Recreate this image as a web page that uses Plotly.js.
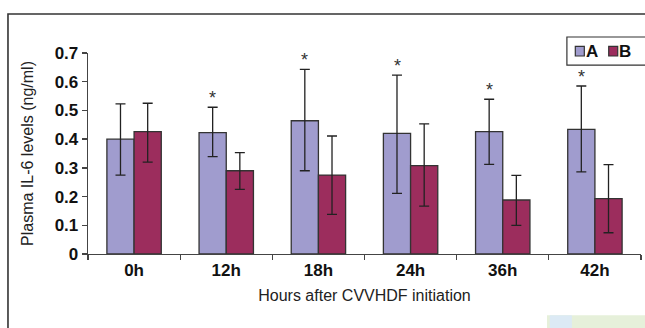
<!DOCTYPE html>
<html>
<head>
<meta charset="utf-8">
<script src="https://cdn.plot.ly/plotly-3.0.1.min.js"></script>
<style>html,body{margin:0;padding:0;background:#fff;}#chart{width:645px;height:328px;}</style>
</head>
<body>
<div id="chart"></div>
<script>
const categories = ["0h", "12h", "18h", "24h", "36h", "42h"];
const aMean  = [0.400, 0.423, 0.464, 0.420, 0.426, 0.434];
const aUpper = [0.523, 0.511, 0.643, 0.623, 0.539, 0.585];
const aLower = [0.275, 0.339, 0.290, 0.211, 0.312, 0.286];
const bMean  = [0.426, 0.290, 0.275, 0.308, 0.188, 0.193];
const bUpper = [0.525, 0.353, 0.411, 0.453, 0.274, 0.311];
const bLower = [0.320, 0.225, 0.138, 0.167, 0.100, 0.074];
const significant = [false, true, true, true, true, true];
const seriesNames = ["A", "B"];
const seriesColors = ["#A09CCE", "#9C2D5D"];

const diff = (u, m) => u.map((v, i) => +(v - m[i]).toFixed(3));
const errStyle = {type: "data", symmetric: false, color: "#222", thickness: 1.3, width: 5};

const traceA = {
  type: "bar", name: seriesNames[0], x: categories, y: aMean,
  marker: {color: seriesColors[0], line: {color: "#333", width: 1.3}},
  error_y: Object.assign({array: diff(aUpper, aMean), arrayminus: diff(aMean, aLower)}, errStyle)
};
const traceB = {
  type: "bar", name: seriesNames[1], x: categories, y: bMean,
  marker: {color: seriesColors[1], line: {color: "#333", width: 1.3}},
  error_y: Object.assign({array: diff(bUpper, bMean), arrayminus: diff(bMean, bLower)}, errStyle)
};

const annotations = [];
categories.forEach((c, i) => {
  if (significant[i]) {
    annotations.push({
      x: c, y: aUpper[i], xref: "x", yref: "y", text: "*", showarrow: false,
      xshift: -13.5, yshift: 9, font: {family: "Liberation Sans, Arial", size: 18, color: "#333"}
    });
  }
});

// Legend (drawn in paper coordinates, top-right, clipped by the frame)
const legendBox = {x0: 0.866, x1: 1.2, y0: 0.940, y1: 1.0796};
const legendItems = [{sx: 0.8812, tx: 0.8975}, {sx: 0.9416, tx: 0.9575}];
const shapes = [
  {type: "rect", xref: "paper", yref: "paper", x0: -0.1447, x1: 1.2, y0: -0.6, y1: 1.194,
   line: {color: "#333", width: 1.6}, fillcolor: "rgba(0,0,0,0)", layer: "below"},
  {type: "rect", xref: "paper", yref: "paper", x0: 0.83, x1: 1.2, y0: -0.37, y1: -0.305,
   line: {width: 0}, fillcolor: "#E6F0DA", layer: "below"},
  {type: "rect", xref: "paper", yref: "paper", x0: 0.835, x1: 0.875, y0: -0.37, y1: -0.305,
   line: {width: 0}, fillcolor: "#DCEAF5", layer: "below"},
  {type: "rect", xref: "paper", yref: "paper", x0: legendBox.x0, x1: legendBox.x1, y0: legendBox.y0, y1: legendBox.y1,
   line: {color: "#333", width: 1.2}, fillcolor: "#fff"}
];
seriesNames.forEach((n, i) => {
  const it = legendItems[i];
  shapes.push({type: "rect", xref: "paper", yref: "paper", x0: it.sx, x1: it.sx + 0.0163, y0: 0.985, y1: 1.033,
    line: {color: "#333", width: 1.2}, fillcolor: seriesColors[i]});
  annotations.push({xref: "paper", yref: "paper", x: it.tx, y: 1.009, xanchor: "left", yanchor: "middle",
    text: "<b>" + n + "</b>", showarrow: false, font: {size: 17, color: "#111"}});
});

const layout = {
  width: 645, height: 328,
  margin: {l: 88, r: 4, t: 53, b: 74, autoexpand: false},
  paper_bgcolor: "#fff", plot_bgcolor: "#fff",
  font: {family: "Liberation Sans, Arial, sans-serif", color: "#111"},
  barmode: "group", bargap: 0.41, bargroupgap: 0,
  showlegend: false,
  xaxis: {
    type: "category", showline: true, linecolor: "#444", linewidth: 1.3,
    ticks: "outside", tickson: "boundaries", ticklen: 5, tickcolor: "#444", tickwidth: 1.3,
    tickfont: {size: 17, weight: "bold", color: "#111"},
    title: {text: "Hours after CVVHDF initiation", font: {size: 16, color: "#222"}, standoff: 11},
    showgrid: false, zeroline: false, fixedrange: true
  },
  yaxis: {
    range: [0, 0.7], dtick: 0.1, showline: true, linecolor: "#444", linewidth: 1.3,
    ticks: "outside", ticklen: 5, tickcolor: "#444", tickwidth: 1.3,
    tickfont: {size: 17, weight: "bold", color: "#111"},
    tickformat: ".1~f",
    title: {text: "Plasma IL-6 levels (ng/ml)", font: {size: 16, color: "#222"}, standoff: 17},
    showgrid: false, zeroline: false, fixedrange: true
  },
  annotations: annotations,
  shapes: shapes
};

Plotly.newPlot("chart", [traceA, traceB], layout, {displayModeBar: false, staticPlot: true});
</script>
</body>
</html>
